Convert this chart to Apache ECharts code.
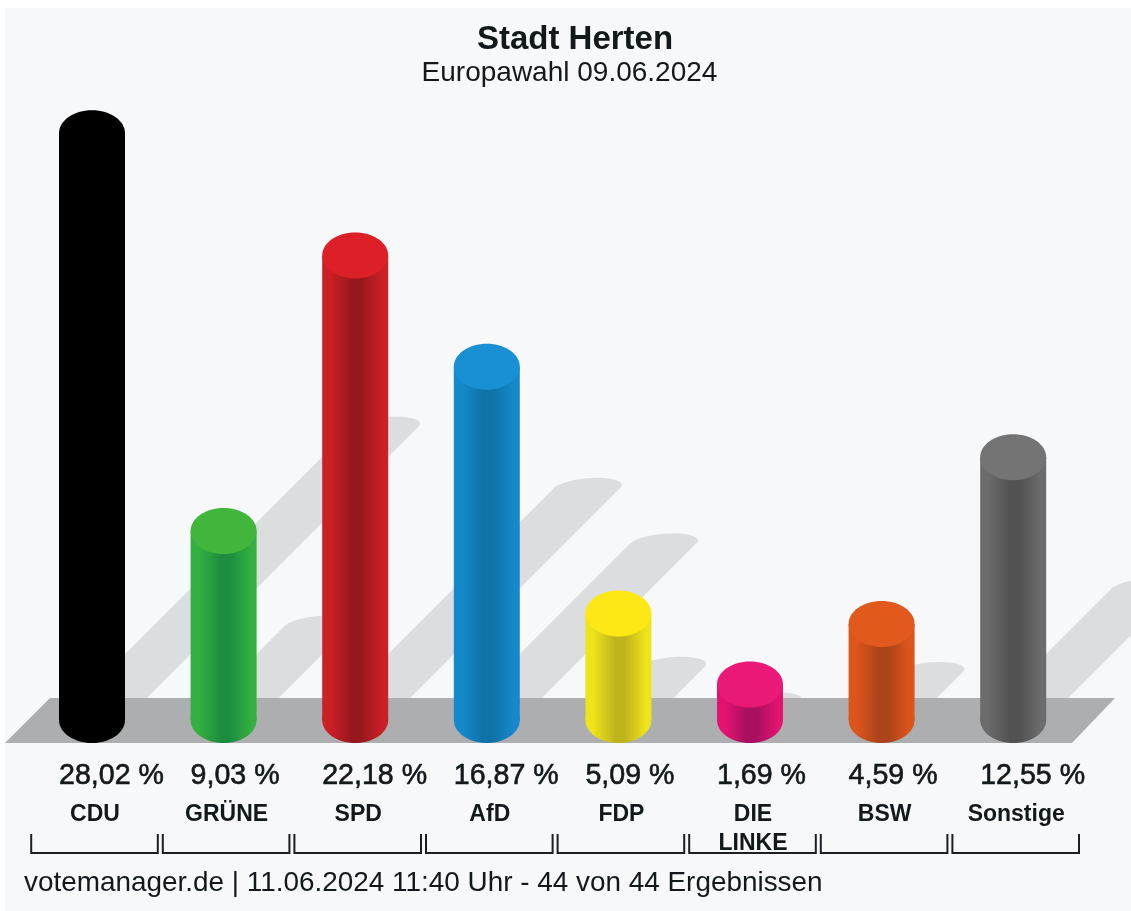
<!DOCTYPE html>
<html><head><meta charset="utf-8">
<style>html,body{margin:0;padding:0;background:#fff}#c{width:1131px;height:911px;filter:blur(0.7px)}</style>
<script src="https://cdn.jsdelivr.net/npm/echarts@6/dist/echarts.min.js"></script>
</head><body><div id="c"></div>
<script>
const categories = ['CDU','GRÜNE','SPD','AfD','FDP','DIE\nLINKE','BSW','Sonstige'];
const shares = [28.02, 9.03, 22.18, 16.87, 5.09, 1.69, 4.59, 12.55];
const topColors = ['#000000','#42b53d','#dd1f27','#1a90d4','#fbe815','#ea1877','#e2591d','#747474'];
const edgeColors = ['#000000','#33b040','#cc2027','#1689cc','#efe31a','#e3136f','#dc561b','#6c6c6c'];
const coreColors = ['#000000','#1d8e3f','#96181c','#0f73a8','#c0b41c','#a81060','#ac431a','#525252'];
const titleText = 'Stadt Herten';
const subtitleText = 'Europawahl 09.06.2024';
const footerText = 'votemanager.de | 11.06.2024 11:40 Uhr - 44 von 44 Ergebnissen';

const FONT = '"Liberation Sans", Arial, sans-serif';
const INK = '#12191d';
const RX = 33, RY = 23, SHADOW_RY = 10;

const chart = echarts.init(document.getElementById('c'), null, {renderer:'canvas'});

function renderShadow(params, api){
  const i = api.value(0), v = api.value(1);
  const base = api.coord([i,0]);
  const half = api.coord([i,v/2]);
  const d = base[1]-half[1];
  const cx = base[0], y0 = base[1];
  const points = [[cx-RX,y0],[cx+RX,y0]];
  // rounded, sheared tip: tangent to both long edges of the band
  for (let k=0;k<=32;k++){
    const t = Math.PI*k/32;
    const sy = SHADOW_RY*Math.sin(t);
    points.push([cx+d+RX*Math.cos(t)+sy, y0-d-sy]);
  }
  return {type:'polygon', shape:{points}, style:{fill:'#dcdddf'}};
}

function renderBar(params, api){
  const i = api.value(0), v = api.value(1);
  const base = api.coord([i,0]);
  const top = api.coord([i,v]);
  const cx = base[0];
  const side = new echarts.graphic.LinearGradient(0,0,1,0,[
    {offset:0, color:edgeColors[i]},
    {offset:0.12, color:edgeColors[i]},
    {offset:0.45, color:coreColors[i]},
    {offset:0.6, color:coreColors[i]},
    {offset:0.92, color:edgeColors[i]},
    {offset:1, color:edgeColors[i]}
  ]);
  return {type:'group', children:[
    {type:'ellipse', shape:{cx, cy:base[1], rx:RX, ry:RY}, style:{fill:side}},
    {type:'rect', shape:{x:cx-RX, y:top[1], width:2*RX, height:base[1]-top[1]}, style:{fill:side}},
    {type:'ellipse', shape:{cx, cy:top[1], rx:RX, ry:RY}, style:{fill:topColors[i]}}
  ]};
}

function renderLabels(params, api){
  const i = api.value(0), v = api.value(1);
  const base = api.coord([i,0]);
  const cx = base[0], y0 = base[1];
  const children = [];
  children.push({type:'text', style:{
    text: v.toFixed(2).replace('.',',')+' %', x:cx-33, y:y0+56,
    fill:INK, font:'normal 28.6px '+FONT, align:'left', verticalAlign:'middle',
    stroke:INK, lineWidth:0.6}});
  categories[i].split('\n').forEach((line,k)=>{
    children.push({type:'text', style:{
      text:line, x:cx+3, y:y0+95+k*29,
      fill:INK, font:'bold 23px '+FONT, align:'center', verticalAlign:'middle'}});
  });
  const bw = api.size([1,0])[0];
  const l = cx-bw/2+5, r = cx+bw/2;
  children.push({type:'polyline', shape:{points:[[l,y0+114],[l,y0+133],[r,y0+133],[r,y0+114]]},
    style:{stroke:'#1a2024', lineWidth:2, fill:null}});
  return {type:'group', children};
}

const seriesData = categories.map((c,i)=>[i, shares[i]]);

chart.setOption({
  animation:false,
  backgroundColor:'#ffffff',
  title:[
    {text:titleText, left:570, top:18, textAlign:'center',
     textStyle:{fontFamily:FONT, fontSize:33, fontWeight:'bold', color:INK}},
    {text:subtitleText, left:564.5, top:54, textAlign:'center',
     textStyle:{fontFamily:FONT, fontSize:28, fontWeight:'normal', color:INK}},
    {text:footerText, left:19, top:864,
     textStyle:{fontFamily:FONT, fontSize:27.9, fontWeight:'normal', color:INK}}
  ],
  grid:{left:26.2, width:1052.8, top:91.8, height:628.2},
  xAxis:{type:'category', data:categories, show:false, boundaryGap:true},
  yAxis:{type:'value', min:0, max:30, show:false},
  graphic:[
    {type:'rect', z:0, shape:{x:5,y:8,width:1126,height:903}, style:{fill:'#f6f8fa'}},
    {type:'polygon', z:1.5, shape:{points:[[5,743],[50,698],[1115,698],[1072,743]]}, style:{fill:'#adaeaf'}}
  ],
  series:[
    {type:'custom', z:1, coordinateSystem:'cartesian2d', data:seriesData, renderItem:renderShadow, clip:false, silent:true},
    {type:'custom', z:2, coordinateSystem:'cartesian2d', data:seriesData, renderItem:renderBar, clip:false, silent:true},
    {type:'custom', z:3, coordinateSystem:'cartesian2d', data:seriesData, renderItem:renderLabels, clip:false, silent:true}
  ]
});
</script></body></html>
